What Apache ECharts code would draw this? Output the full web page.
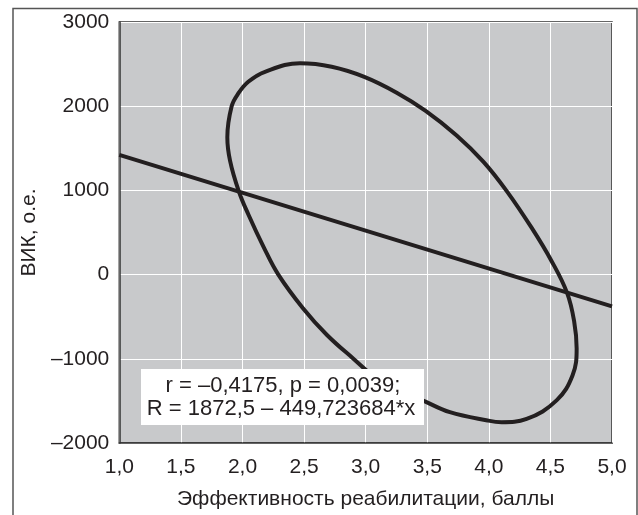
<!DOCTYPE html>
<html>
<head>
<meta charset="utf-8">
<script src="https://cdn.jsdelivr.net/npm/echarts@6/dist/echarts.min.js"></script>
<style>
html,body{margin:0;padding:0;background:#fff;}
#c{width:638px;height:515px;}
</style>
</head>
<body>
<div id="c"></div>
<script>
// Axis ticks
var xTicks = [1.0, 1.5, 2.0, 2.5, 3.0, 3.5, 4.0, 4.5, 5.0];
var yTicks = [-2000, -1000, 0, 1000, 2000, 3000];

// Regression line R = 1872,5 – 449,723684*x (endpoints at x = 1 and x = 5)
var regX = [1.0, 5.0];
var regY = [1422.8, -376.4];

// Confidence ellipse, points (closed loop)
var ellX = [3.278, 3.076, 2.905, 2.686, 2.491, 2.291, 2.175, 2.047, 1.969, 1.899, 1.877, 1.912,
            1.966, 2.047, 2.183, 2.467, 2.724, 2.989, 3.252, 3.487, 3.739, 3.955, 4.144, 4.347,
            4.510, 4.636, 4.693, 4.713, 4.680, 4.550, 4.307, 4.104, 3.990, 3.684, 3.481, 3.278];
var ellY = [-1371, -1216, -1004, -717, -399, 0, 318, 717, 995, 1354, 1632, 1999,
            2151, 2290, 2409, 2510, 2469, 2349, 2161, 1945, 1653, 1342, 995, 557,
            159, -220, -558, -877, -1195, -1494, -1714, -1753, -1733, -1634, -1506, -1371];

var statLines = ['r = –0,4175, p = 0,0039;', 'R = 1872,5 – 449,723684*x'];

var xName = 'Эффективность реабилитации, баллы';
var yName = 'ВИК, о.е.';

function zip(a, b) { return a.map(function (v, i) { return [v, b[i]]; }); }

var chart = echarts.init(document.getElementById('c'), null, {renderer: 'canvas'});
var ink = '#231f20';
var font = '"Liberation Sans", Arial, Helvetica, sans-serif';

chart.setOption({
  animation: false,
  textStyle: {fontFamily: font},
  grid: {
    left: 119.3, right: 26, top: 22, bottom: 72,
    show: true, backgroundColor: '#c8c9cb', borderColor: '#333', borderWidth: 1.5
  },
  xAxis: {
    type: 'value', min: xTicks[0], max: xTicks[xTicks.length - 1], interval: 0.5,
    name: xName, nameLocation: 'middle', nameGap: 46,
    nameTextStyle: {fontSize: 21, color: ink, fontFamily: font},
    axisLine: {show: true, onZero: false, lineStyle: {color: '#333', width: 1.5}},
    axisTick: {show: false},
    axisLabel: {fontSize: 21, color: ink, margin: 14, fontFamily: font,
      formatter: function (v) { return v.toFixed(1).replace('.', ','); }},
    splitLine: {show: true, lineStyle: {color: '#ffffff', width: 1}}
  },
  yAxis: {
    type: 'value', min: yTicks[0], max: yTicks[yTicks.length - 1], interval: 1000,
    name: yName, nameLocation: 'middle', nameGap: 73, nameRotate: 90,
    nameTextStyle: {fontSize: 21, color: ink, fontFamily: font},
    axisLine: {show: true, onZero: false, lineStyle: {color: '#333', width: 1.5}},
    axisTick: {show: false},
    axisLabel: {fontSize: 21, color: ink, margin: 10, fontFamily: font,
      formatter: function (v) { return String(v).replace('-', '–'); }},
    splitLine: {show: true, lineStyle: {color: '#ffffff', width: 1}}
  },
  series: [
    {
      type: 'line', data: zip(regX, regY), showSymbol: false, symbol: 'none',
      lineStyle: {color: ink, width: 4}, z: 3
    },
    {
      type: 'line', data: zip(ellX, ellY), showSymbol: false, symbol: 'none', smooth: 0.4,
      lineStyle: {color: ink, width: 4}, z: 3
    }
  ],
  graphic: [
    {
      type: 'rect', left: 10.5, top: 6, z: 0, silent: true,
      shape: {width: 624, height: 520},
      style: {fill: 'none', stroke: '#555', lineWidth: 1.5}
    },
    {
      type: 'rect', left: 141, top: 369, z: 10,
      shape: {width: 283, height: 56},
      style: {fill: '#ffffff', stroke: 'none'}
    },
    {
      type: 'text', x: 283, y: 386, z: 11,
      style: {text: statLines[0], align: 'center', verticalAlign: 'middle', fill: ink,
        font: '22px ' + font}
    },
    {
      type: 'text', x: 281, y: 409, z: 11,
      style: {text: statLines[1], align: 'center', verticalAlign: 'middle', fill: ink,
        font: '22px ' + font}
    }
  ]
});
</script>
</body>
</html>
